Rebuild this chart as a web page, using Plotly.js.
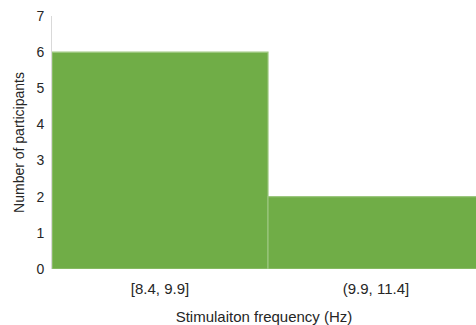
<!DOCTYPE html>
<html>
<head>
<meta charset="utf-8">
<script src="https://cdn.plot.ly/plotly-3.0.1.min.js"></script>
<style>
  html, body { margin: 0; padding: 0; background: #fff; overflow: hidden; }
  #chart { width: 476px; height: 325px; }
</style>
</head>
<body>
<div id="chart"></div>
<script>
// Frequency bins and participant counts per bin
const bins = ['[8.4, 9.9]', '(9.9, 11.4]'];
const participants = [6, 2];
const yTicks = [0, 1, 2, 3, 4, 5, 6, 7];

const font = 'Liberation Sans, Arial, sans-serif';
const ink = '#262626';

const trace = {
  type: 'bar',
  x: bins,
  y: participants,
  marker: {
    color: '#70AD47',
    line: { color: '#9CC77F', width: 1.2 }
  },
  hoverinfo: 'x+y'
};

const layout = {
  width: 476,
  height: 325,
  margin: { l: 52, r: 0, t: 16, b: 56 },
  paper_bgcolor: '#ffffff',
  plot_bgcolor: '#ffffff',
  bargap: 0,
  showlegend: false,
  font: { family: font, size: 14, color: ink },
  xaxis: {
    type: 'category',
    range: [-0.5, 1.463],
    showgrid: false,
    zeroline: false,
    showline: false,
    ticks: '',
    ticklabelstandoff: 9,
    tickfont: { family: font, size: 15, color: ink },
    title: {
      text: 'Stimulaiton frequency (Hz)',
      font: { family: font, size: 15, color: ink },
      standoff: 17
    }
  },
  yaxis: {
    range: [0, 7],
    tickvals: yTicks,
    showgrid: false,
    zeroline: false,
    showline: true,
    linecolor: '#d9d9d9',
    linewidth: 1,
    ticks: '',
    ticklabelstandoff: 4,
    tickfont: { family: font, size: 14, color: ink },
    title: {
      text: 'Number of participants',
      font: { family: font, size: 14, color: ink },
      standoff: 8
    }
  }
};

Plotly.newPlot('chart', [trace], layout, { displayModeBar: false, staticPlot: true });
</script>
</body>
</html>
